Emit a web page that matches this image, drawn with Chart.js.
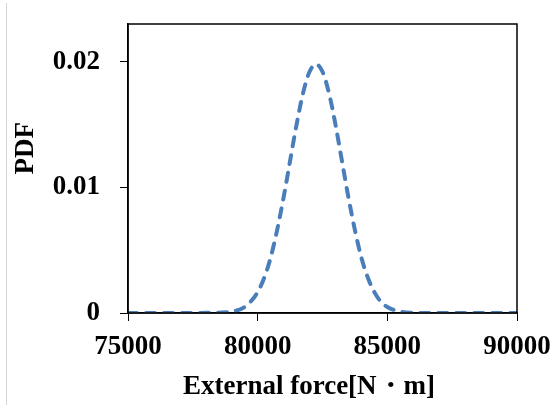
<!DOCTYPE html>
<html>
<head>
<meta charset="utf-8">
<script src="https://cdn.jsdelivr.net/npm/chart.js@4/dist/chart.umd.min.js"></script>
<style>
  html, body { margin: 0; padding: 0; background: #fff; }
  #wrap { position: relative; width: 554px; height: 405px; }
  #edge { position: absolute; left: 6px; top: 3px; width: 1px; height: 402px; background: #d4d4d4; }
  canvas { position: absolute; left: 0; top: 0; }
</style>
</head>
<body>
<div id="wrap">
  <div id="edge"></div>
  <canvas id="c" width="554" height="405"></canvas>
</div>
<script>
// External force values [N·m] (x) and read PDF values (y)
const forceValues = [75000, 76000, 77000, 78000, 78500, 79000, 79500, 80000, 80250, 80500, 80750, 81000, 81250, 81500, 81750, 82000, 82250, 82500, 82750, 83000, 83250, 83500, 83750, 84000, 84250, 84500, 84750, 85000, 85500, 86000, 87000, 88000, 89000, 90000];
const pdfValues = [0, 0, 0, 0.00001, 0.00003, 0.00011, 0.00048, 0.00166, 0.00279, 0.0044, 0.0066, 0.0092, 0.0121, 0.0150, 0.0175, 0.0192, 0.0198, 0.0192, 0.0175, 0.0150, 0.0121, 0.0092, 0.0066, 0.0044, 0.0028, 0.00166, 0.0009, 0.00048, 0.00011, 0.00002, 0, 0, 0, 0];
const xTicks = [75000, 80000, 85000, 90000];
const yTicks = [0, 0.01, 0.02];
const xTitle = 'External force[N・m]';
const yTitle = 'PDF';

const points = forceValues.map((x, i) => ({ x: x, y: pdfValues[i] }));
const FONT = "'Liberation Serif', 'Times New Roman', serif";

const frame = {
  id: 'frame',
  afterDraw(chart) {
    const { ctx, chartArea: a } = chart;
    ctx.save();
    ctx.strokeStyle = '#000';
    ctx.lineWidth = 1.5;
    ctx.strokeRect(a.left, a.top, a.right - a.left, a.bottom - a.top);
    ctx.restore();
  }
};

new Chart(document.getElementById('c'), {
  type: 'line',
  data: {
    datasets: [{
      data: points,
      borderColor: '#4a7ebb',
      borderWidth: 4,
      borderDash: [9, 9],
      borderCapStyle: 'round',
      pointRadius: 0,
      fill: false,
      cubicInterpolationMode: 'monotone'
    }]
  },
  options: {
    responsive: false,
    animation: false,
    layout: { padding: { top: 24, right: 37, left: 0, bottom: 0 } },
    plugins: { legend: { display: false }, tooltip: { enabled: false } },
    scales: {
      x: {
        type: 'linear',
        min: 75000,
        max: 90000,
        afterFit: s => { s.height = 92; s.paddingLeft = 0; s.paddingRight = 0; },
        afterBuildTicks: s => { s.ticks = xTicks.map(v => ({ value: v })); },
        ticks: {
          color: '#000',
          padding: 10,
          maxRotation: 0,
          font: { family: FONT, size: 27, weight: 'bold' },
          callback: v => String(v)
        },
        grid: { drawOnChartArea: false, drawTicks: true, tickLength: 8, color: '#000', lineWidth: 1 },
        border: { display: true, color: '#000', width: 1.5 },
        title: {
          display: true,
          text: xTitle + '\u2002\u2002',
          color: '#000',
          padding: { top: 0, bottom: 2 },
          font: { family: FONT, size: 27, weight: 'bold' }
        }
      },
      y: {
        min: 0,
        max: 0.023,
        afterFit: s => { s.width = 128; s.paddingTop = 0; s.paddingBottom = 0; },
        afterBuildTicks: s => { s.ticks = yTicks.map(v => ({ value: v })); },
        ticks: {
          color: '#000',
          padding: 20,
          font: { family: FONT, size: 27, weight: 'bold' },
          callback: v => String(v)
        },
        grid: { drawOnChartArea: false, drawTicks: true, tickLength: 8, color: '#000', lineWidth: 1 },
        border: { display: true, color: '#000', width: 1.5 },
        title: {
          display: true,
          text: '\u2002\u2002\u2002' + yTitle,
          color: '#000',
          padding: { top: 10, bottom: 0 },
          font: { family: FONT, size: 27, weight: 'bold' }
        }
      }
    }
  },
  plugins: [frame]
});
</script>
</body>
</html>
